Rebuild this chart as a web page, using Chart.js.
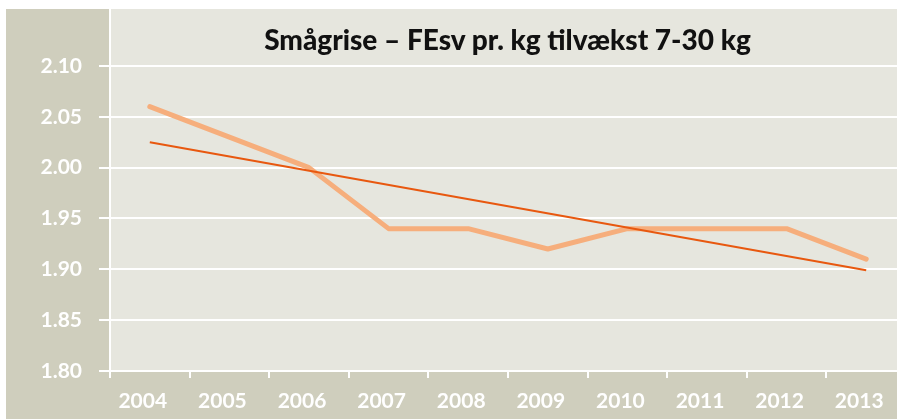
<!DOCTYPE html>
<html>
<head>
<meta charset="utf-8">
<script src="https://cdn.jsdelivr.net/npm/chart.js@4/dist/chart.umd.min.js"></script>
<style>
    html, body { margin: 0; padding: 0; background: #ffffff; overflow: hidden; width: 897px; height: 419px; }
    #wrap { position: absolute; left: 6px; top: 9px; width: 900px; height: 410px; }
    #title {
        position: absolute; left: 114px; width: 787px; top: 24px;
        text-align: center; font-family: Lato, sans-serif; font-weight: 900;
        font-size: 28px; line-height: 30px; color: #111111; white-space: nowrap;
    }
</style>
</head>
<body>
<div id="wrap"><canvas id="myChart" width="900" height="410"></canvas></div>
<div id="title">Smågrise – FEsv pr. kg tilvækst 7-30 kg</div>
<script>
const years = ['2004', '2005', '2006', '2007', '2008', '2009', '2010', '2011', '2012', '2013'];
const feedValues = [2.06, 2.03, 2.00, 1.94, 1.94, 1.92, 1.94, 1.94, 1.94, 1.91];
// trend line read at its two ends, drawn straight between them
const trendValues = [2.025, null, null, null, null, null, null, null, null, 1.899];
const yTicks = [1.80, 1.85, 1.90, 1.95, 2.00, 2.05, 2.10];

document.addEventListener('DOMContentLoaded', () => {
    if (typeof Chart === 'undefined') {
        console.error('Chart.js is not loaded');
        return;
    }

    const ctx = document.getElementById('myChart').getContext('2d');

    // beige side panels and lighter plot area
    const background = {
        id: 'background',
        beforeDraw(chart) {
            const c = chart.ctx;
            const a = chart.chartArea;
            c.save();
            c.fillStyle = '#cfcebd';
            c.fillRect(0, 0, chart.width, chart.height);
            c.fillStyle = '#e6e6de';
            c.fillRect(a.left, a.top, a.right - a.left, a.bottom - a.top);
            c.restore();
        }
    };

    function noPadding(scale) {
        scale.paddingTop = 0;
        scale.paddingBottom = 0;
        scale.paddingLeft = 0;
        scale.paddingRight = 0;
    }

    new Chart(ctx, {
        type: 'line',
        data: {
            labels: years,
            datasets: [{
                label: 'FEsv pr. kg tilvækst',
                data: feedValues,
                borderColor: '#f6ae7c',
                borderWidth: 5,
                borderCapStyle: 'round',
                borderJoinStyle: 'round',
                pointRadius: 0,
                tension: 0,
                order: 2
            }, {
                label: 'Tendens',
                data: trendValues,
                borderColor: '#e8580f',
                borderWidth: 2,
                pointRadius: 0,
                spanGaps: true,
                tension: 0,
                order: 1
            }]
        },
        options: {
            responsive: false,
            animation: false,
            layout: { padding: 0 },
            plugins: {
                legend: { display: false },
                tooltip: { enabled: false },
                title: { display: false }
            },
            scales: {
                x: {
                    offset: true,
                    grid: {
                        offset: true,
                        drawOnChartArea: false,
                        color: '#ffffff',
                        lineWidth: 2,
                        tickLength: 7
                    },
                    border: { display: false },
                    ticks: {
                        color: '#ffffff',
                        font: { family: 'Lato', weight: 'bold', size: 21 },
                        padding: 11,
                        labelOffset: -7,
                        maxRotation: 0,
                        autoSkip: false
                    },
                    afterFit(scale) {
                        scale.height = 48;
                        noPadding(scale);
                    }
                },
                y: {
                    min: 1.80,
                    max: 2.156,
                    afterBuildTicks(scale) {
                        scale.ticks = yTicks.map(v => ({ value: v }));
                    },
                    grid: {
                        color: '#ffffff',
                        lineWidth: 2,
                        tickLength: 11
                    },
                    border: { display: true, color: '#ffffff', width: 2 },
                    ticks: {
                        color: '#ffffff',
                        font: { family: 'Lato', weight: 'bold', size: 21 },
                        padding: 17,
                        callback: v => Number(v).toFixed(2)
                    },
                    afterFit(scale) {
                        scale.width = 104;
                        noPadding(scale);
                    }
                }
            }
        },
        plugins: [background]
    });
});
</script>
</body>
</html>
